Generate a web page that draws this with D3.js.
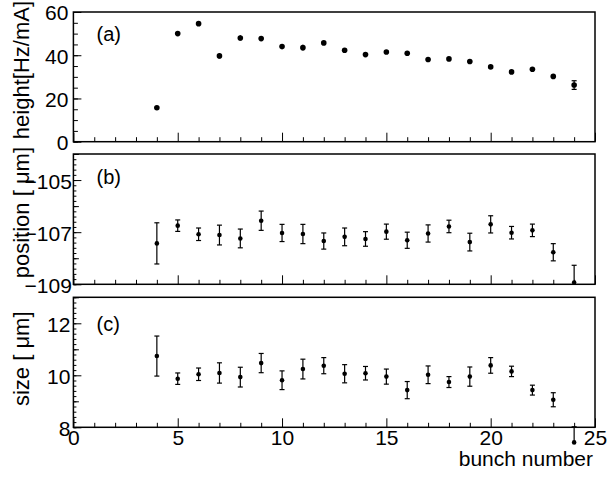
<!DOCTYPE html>
<meta charset="utf-8">
<head>
<title>bunch scan</title>
<script src="https://cdn.jsdelivr.net/npm/d3@7"></script>
<style>
body { margin:0; background:#fff; }
text { font-family:"Liberation Sans", Arial, Helvetica, sans-serif; fill:#000; }
</style>
</head>
<body>
<svg id=mySVG width=613 height=480></svg>
<script>
// ---- data ----
var bunches = [4,5,6,7,8,9,10,11,12,13,14,15,16,17,18,19,20,21,22,23,24]

var heightVals = [15.7,50.0,54.6,39.7,48.0,47.7,44.0,43.5,45.7,42.3,40.3,41.5,40.9,38.0,38.3,37.1,34.6,32.3,33.5,30.2,26.2]
var heightErrs = [0.8,0.8,1.0,1.2,1.2,1.0,1.0,1.3,0.9,1.0,0.9,0.9,1.0,1.0,0.8,1.1,0.9,0.5,0.7,0.8,2.0]

var posVals = [-107.43,-106.75,-107.08,-107.11,-107.24,-106.56,-107.03,-107.07,-107.34,-107.18,-107.26,-106.98,-107.31,-107.05,-106.78,-107.38,-106.70,-107.02,-106.93,-107.77,-108.93]
var posErrs = [0.79,0.22,0.24,0.38,0.36,0.37,0.33,0.37,0.31,0.34,0.28,0.29,0.31,0.33,0.24,0.34,0.33,0.24,0.24,0.33,0.66]

var sizeVals = [10.74,9.87,10.04,10.09,9.93,10.47,9.81,10.24,10.37,10.06,10.08,9.95,9.43,10.02,9.74,9.95,10.38,10.15,9.43,9.06,7.42]
var sizeErrs = [0.77,0.22,0.24,0.39,0.38,0.37,0.36,0.38,0.31,0.35,0.26,0.29,0.33,0.34,0.21,0.37,0.30,0.20,0.19,0.27,0.60]

var xTickLabels = [0,5,10,15,20,25]
var heightTicks = [0,20,40,60]
var posTicks = [-109,-107,-105]
var sizeTicks = [8,10,12]

var svg = d3.select("#mySVG")
var left = 73.4, right = 595

var x = d3.scaleLinear().domain([0,25]).range([left,right])

//---panels---
var panels = [
 {tag:"(a)", title:"height[Hz/mA]", vals:heightVals, errs:heightErrs, dom:[0,60], top:12, bot:141.7,
  ticks:heightTicks, mid:[], minor:d3.range(0,61,5), pad:5, titleEnd:1, labelY:41},
 {tag:"(b)", title:"position [ \u03bcm]", vals:posVals, errs:posErrs, dom:[-109,-104], top:154, bot:284.3,
  ticks:posTicks, mid:[-108,-106,-104], minor:d3.range(-109,-103.99,0.2), pad:1.5, titleEnd:147, labelY:184},
 {tag:"(c)", title:"size [ \u03bcm]", vals:sizeVals, errs:sizeErrs, dom:[8,13], top:297.3, bot:427.3,
  ticks:sizeTicks, mid:[9,11,13], minor:d3.range(8,13.01,0.2), pad:3, titleEnd:311.5, labelY:331}
]

var xMinor = d3.range(0,26,1).filter(function(d){ return d%5!=0 })
var xMajor = d3.range(0,26,5)

panels.forEach(function(p,i)
{
   var y = d3.scaleLinear().domain(p.dom).range([p.bot,p.top])
   var g = svg.append("g")

   // x ticks pointing up
   var gx = g.append("g").attr("transform","translate(0,"+p.bot+")")
   gx.call(d3.axisBottom(x).tickValues(xMinor).tickSize(-4.5).tickFormat(""))
   var last = i==panels.length-1
   var gx2 = g.append("g").attr("transform","translate(0,"+p.bot+")")
   gx2.call(d3.axisBottom(x).tickValues(last?xTickLabels:xMajor).tickSize(-9).tickPadding(3)
        .tickFormat(last?d3.format("d"):""))
   gx2.selectAll("text").style("font-size","21px").attr("font-family",null)

   // y ticks pointing right
   var gy = g.append("g").attr("transform","translate("+left+",0)")
   gy.call(d3.axisLeft(y).tickValues(p.minor).tickSize(p.mid.length?-3:-4.5).tickFormat(""))
   if(p.mid.length)
   {
     g.append("g").attr("transform","translate("+left+",0)")
      .call(d3.axisLeft(y).tickValues(p.mid).tickSize(-5.5).tickFormat(""))
   }
   var gy2 = g.append("g").attr("transform","translate("+left+",0)")
   gy2.call(d3.axisLeft(y).tickValues(p.ticks).tickSize(-8).tickPadding(p.pad).tickFormat(d3.format("d")))
   gy2.selectAll("text").style("font-size","21px").attr("font-family",null).attr("dy","0.38em")

   g.selectAll(".domain").remove()
   g.selectAll(".tick line").attr("stroke","#000").attr("stroke-width",1)

   // frame
   g.append("rect")
    .attr("x",left).attr("y",p.top)
    .attr("width",right-left).attr("height",p.bot-p.top)
    .attr("fill","none").attr("stroke","#000").attr("stroke-width",1.5)

   // panel tag
   g.append("text").text(p.tag)
    .attr("x",96.5).attr("y",p.labelY)
    .style("font-size","20px")

   // y title
   g.append("text").text(p.title)
    .attr("transform","translate(29,"+p.titleEnd+") rotate(-90)")
    .attr("text-anchor","end")
    .style("font-size","22px")

   // error bars, clipped to the frame range
   var lo=p.dom[0], hi=p.dom[1]
   bunches.forEach(function(b,j)
   {
     var v=p.vals[j], e=p.errs[j]
     var a=Math.max(v-e,lo), c=Math.min(v+e,hi)
     a=Math.min(a,v); c=Math.max(c,v)
     g.append("line")
      .attr("x1",x(b)).attr("x2",x(b))
      .attr("y1",y(a)).attr("y2",y(c))
      .attr("stroke","#000").attr("stroke-width",1.2)
     if(v-e>=lo && e*(p.bot-p.top)/(hi-lo)>3)
       g.append("line").attr("x1",x(b)-2.5).attr("x2",x(b)+2.5)
        .attr("y1",y(v-e)).attr("y2",y(v-e)).attr("stroke","#000").attr("stroke-width",1.2)
     if(v+e<=hi && e*(p.bot-p.top)/(hi-lo)>3)
       g.append("line").attr("x1",x(b)-2.5).attr("x2",x(b)+2.5)
        .attr("y1",y(v+e)).attr("y2",y(v+e)).attr("stroke","#000").attr("stroke-width",1.2)
   })

   g.selectAll("circle.pt").data(bunches).enter().append("circle")
    .attr("class","pt")
    .attr("cx",function(d){ return x(d) })
    .attr("cy",function(d,j){ return y(p.vals[j]) })
    .attr("r",i==0?2.8:2.3)
    .attr("fill","#000")
})

// x title
svg.append("text").text("bunch number")
 .attr("x",593).attr("y",466)
 .attr("text-anchor","end")
 .style("font-size","21px")
</script>
</body>
